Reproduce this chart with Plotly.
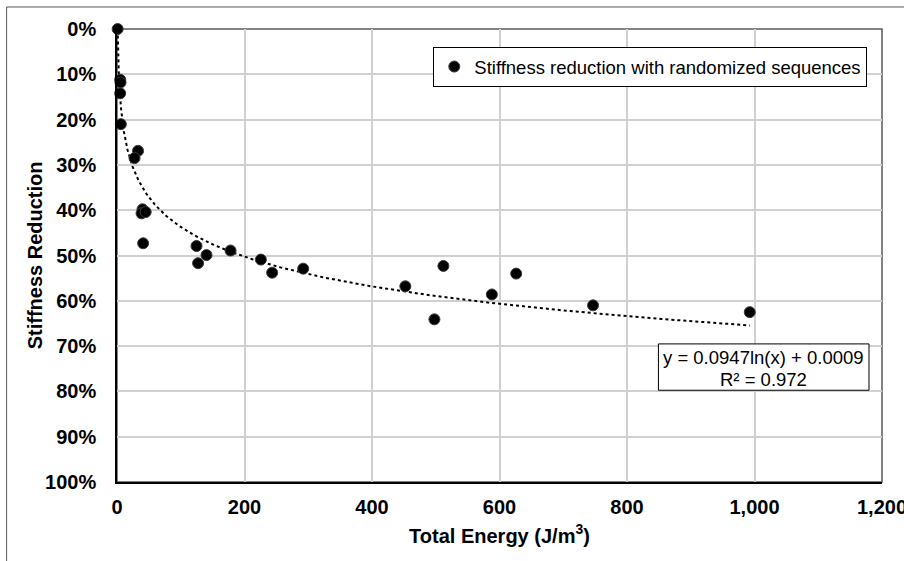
import numpy as np
import plotly.graph_objects as go

# Data
energy = [1.0, 5.0, 5.5, 5.0, 6.0, 33.0, 27.5, 40.0, 38.5, 45.0, 41.0,
          124.7, 140.4, 127.2, 178.1, 225.7, 243.4, 292.1, 452.3, 512.0,
          497.9, 588.0, 626.2, 746.7, 992.6]
stiffness_reduction = [0.000, 0.112, 0.118, 0.142, 0.210, 0.269, 0.285, 0.398, 0.407, 0.404, 0.473,
                       0.479, 0.499, 0.517, 0.489, 0.509, 0.538, 0.529, 0.568, 0.523,
                       0.641, 0.586, 0.540, 0.610, 0.625]

# Logarithmic trendline coefficients shown on the chart
trend_slope = 0.0947
trend_intercept = 0.0009
trend_r2 = 0.972

x_ticks = [0, 200, 400, 600, 800, 1000, 1200]
y_ticks = [0.0, 0.1, 0.2, 0.3, 0.4, 0.5, 0.6, 0.7, 0.8, 0.9, 1.0]

FONT = "Liberation Sans, Arial, sans-serif"

xmin, xmax = min(energy), max(energy)
trend_x = np.unique(np.concatenate([np.geomspace(xmin, xmax, 300), np.linspace(xmin, xmax, 300)]))
trend_y = trend_slope * np.log(trend_x) + trend_intercept

fig = go.Figure()
fig.add_trace(go.Scatter(
    x=trend_x, y=trend_y, mode="lines",
    line=dict(color="black", width=2, dash="dot"),
    showlegend=False, hoverinfo="skip", cliponaxis=False))
fig.add_trace(go.Scatter(
    x=energy, y=stiffness_reduction, mode="markers",
    name="Stiffness reduction with randomized sequences",
    cliponaxis=False,
    marker=dict(color="black", size=11, line=dict(color="#3a3a3a", width=1))))

W, H = 904, 561
L, R, T, B = 117.3, 22.3, 29, 79.3
pw, ph = W - L - R, H - T - B

def px(xp):
    return (xp - L) / pw

def py(yp):
    return (H - B - yp) / ph

shapes = [
    # plot area frame
    dict(type="rect", xref="paper", yref="paper", x0=0, x1=1, y0=0, y1=1,
         line=dict(color="#595959", width=1.5), layer="below"),
    # outer chart border (cropped in the reference)
    dict(type="rect", xref="paper", yref="paper", x0=px(7), x1=px(960), y0=py(600), y1=py(7),
         line=dict(color="#595959", width=1)),
    # equation box
    dict(type="rect", xref="paper", yref="paper", x0=px(658.3), x1=px(868.7), y0=py(390), y1=py(343.7),
         line=dict(color="black", width=1), fillcolor="white", layer="above"),
]

annotations = [
    dict(xref="paper", yref="paper", x=px(763.5), y=py(357.7), text=f"y = {trend_slope}ln(x) + {trend_intercept:.4f}",
         showarrow=False, xanchor="center", yanchor="middle", font=dict(family=FONT, size=18.5, color="black")),
    dict(xref="paper", yref="paper", x=px(763.5), y=py(379), text=f"R² = {trend_r2}",
         showarrow=False, xanchor="center", yanchor="middle", font=dict(family=FONT, size=18.5, color="black")),
    # y-axis title
    dict(xref="paper", yref="paper", x=px(35), y=py(255.5), text="Stiffness Reduction", textangle=-90,
         showarrow=False, xanchor="center", yanchor="middle",
         font=dict(family=FONT, size=20, color="black", weight="bold")),
]

fig.update_layout(
    width=W, height=H,
    margin=dict(l=L, r=R, t=T, b=B, autoexpand=False),
    paper_bgcolor="white", plot_bgcolor="white",
    font=dict(family=FONT, color="black"),
    shapes=shapes, annotations=annotations,
    showlegend=True,
    legend=dict(x=px(867), y=py(47), xanchor="right", yanchor="top",
                bgcolor="white", bordercolor="black", borderwidth=1,
                font=dict(family=FONT, size=18.5, color="black")),
    xaxis=dict(range=[0, 1200], tickvals=x_ticks, tickformat=",", showgrid=True,
               gridcolor="#d0d0d0", gridwidth=1.5, zeroline=False,
               showline=True, linecolor="black", linewidth=1.5, ticks="",
               ticklabelstandoff=6, ticklabeloverflow="allow",
               tickfont=dict(family=FONT, size=20, color="black", weight="bold"),
               title=dict(text="Total Energy (J/m<sup>3</sup>)", standoff=12,
                          font=dict(family=FONT, size=20, color="black", weight="bold"))),
    yaxis=dict(range=[1, 0], tickvals=y_ticks, tickformat=".0%", showgrid=True,
               gridcolor="#d0d0d0", gridwidth=1.5, zeroline=False,
               showline=True, linecolor="black", linewidth=1.5, ticks="",
               ticklabelstandoff=15, ticklabeloverflow="allow",
               tickfont=dict(family=FONT, size=20, color="black", weight="bold")),
)

fig.write_html("out.html")
